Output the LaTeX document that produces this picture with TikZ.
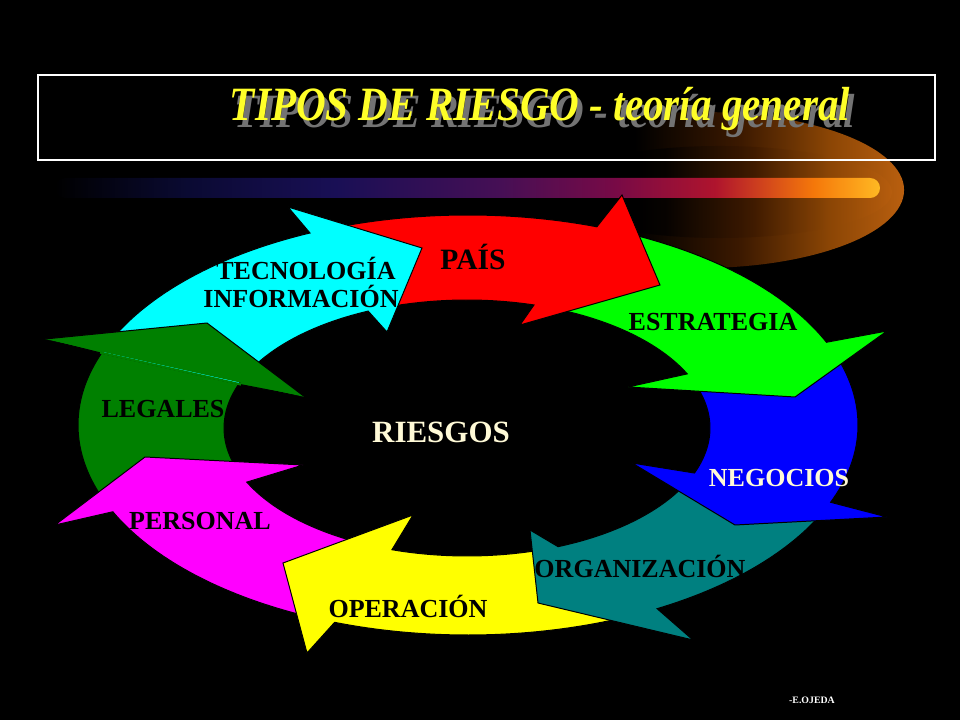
\documentclass[tikz,border=0pt]{standalone}
\usepackage{fontspec}
\setmainfont{Liberation Serif}
\definecolor{tealc}{RGB}{0,128,128}
\definecolor{dkg}{RGB}{0,128,0}
\definecolor{cyc}{RGB}{0,255,255}
\definecolor{rdc}{RGB}{255,0,0}
\definecolor{grc}{RGB}{0,255,0}
\definecolor{blc}{RGB}{0,0,255}
\definecolor{ylc}{RGB}{255,255,0}
\definecolor{mgc}{RGB}{255,0,255}
\definecolor{cream}{RGB}{255,250,215}
\definecolor{ttl}{RGB}{255,255,40}
\definecolor{b1}{RGB}{0,0,0}
\definecolor{b2}{RGB}{10,10,50}
\definecolor{b3}{RGB}{25,15,85}
\definecolor{b4}{RGB}{70,15,85}
\definecolor{b5}{RGB}{120,10,70}
\definecolor{b6}{RGB}{175,20,45}
\definecolor{b7}{RGB}{245,120,10}
\definecolor{b8}{RGB}{255,185,35}
\definecolor{g2}{RGB}{60,25,0}
\definecolor{g3}{RGB}{140,70,5}
\definecolor{g4}{RGB}{185,95,15}
\pgfdeclarehorizontalshading{barsh}{100bp}{color(0bp)=(b1);color(25bp)=(b1);color(33bp)=(b2);color(42bp)=(b3);color(52bp)=(b4);color(59bp)=(b5);color(65bp)=(b6);color(71bp)=(b7);color(75bp)=(b8);color(100bp)=(b8)}
\pgfdeclarehorizontalshading{glowsh}{100bp}{color(0bp)=(b1);color(25bp)=(b1);color(42bp)=(b1);color(55bp)=(g2);color(66bp)=(g3);color(75bp)=(g4);color(100bp)=(g4)}
\newcommand\ringarrow[8]{%
\fill[#1,draw=black,line width=0.7pt] plot[domain=#2:#3,samples=40] ({468+390*cos(\x)},{425-210*sin(\x)}) -- #4 -- #5 -- #6 -- plot[domain=#7:#8,samples=40] ({467+243*cos(\x)},{428-128*sin(\x)}) -- cycle;}
\tikzset{lbl/.style={font=\fontsize{18.5}{19}\selectfont\bfseries,text=black,inner sep=0pt}}
\begin{document}
\begin{tikzpicture}[x=0.025cm,y=-0.025cm]
\fill[black] (0,0) rectangle (960,720);
\useasboundingbox (0,0) rectangle (960,720);
% glow
\shade[shading=glowsh] (700,190) ellipse[x radius=5.1cm,y radius=1.95cm];
\shade[shading=glowsh,opacity=0.6] (720,192) ellipse[x radius=4.3cm,y radius=1.15cm];
% bar
\shade[shading=barsh,rounded corners=7pt] (55,178) rectangle (880,198);
% title box
\draw[white,line width=0.8pt] (38,75) rectangle (935,160);
\node[font=\fontsize{34}{34}\selectfont\bfseries\itshape,text=black!55,xscale=0.86,inner sep=0pt] (tshadow) at (545,116) {TIPOS DE RIESGO - teoría general};
\node[font=\fontsize{34}{34}\selectfont\bfseries\itshape,text=ttl,xscale=0.86,inner sep=0pt] (title) at (540,109) {TIPOS DE RIESGO - teoría general};
% ring (reverse order so each head lies over the next arrow's tail)
\ringarrow{dkg}{-155.6}{-200}{(45,339)}{(207,323)}{(305,397)}{-200}{-155}
\ringarrow{mgc}{-110}{-155.6}{(55,525)}{(145,457)}{(303,465)}{-155}{-108}
\ringarrow{ylc}{-61}{-110}{(307,653)}{(283,563)}{(413,515)}{-108}{-68}
\ringarrow{tealc}{-21.6}{-61}{(693,640)}{(538,603)}{(530,530)}{-68}{-20.6}
\ringarrow{blc}{23.2}{-21.6}{(887,517)}{(735,525)}{(632,463)}{-20.6}{25}
\ringarrow{grc}{70.7}{23.2}{(887,331)}{(795,397)}{(628,387)}{25}{74}
\ringarrow{rdc}{113.9}{70.7}{(622,195)}{(660,285)}{(520,325)}{74}{114}
\ringarrow{cyc}{160}{113.9}{(288,207)}{(422,248)}{(387,332)}{114}{160}
\fill[dkg] (45,339) -- (207,323) -- (305,397) -- cycle;
\draw[dkg,line width=1.6pt] (100,352.5) -- (241,384.5);
\draw[black,line width=0.7pt] (45,339) -- (207,323) -- (305,397);
% labels
\node[lbl,font=\fontsize{21}{21}\selectfont\bfseries] (pais) at (473,257) {PAÍS};
\node[lbl] (tec) at (306,268) {TECNOLOGÍA};
\node[lbl] (inf) at (301,296) {INFORMACIÓN};
\node[lbl] (est) at (713,322) {ESTRATEGIA};
\node[lbl] (leg) at (163,409) {LEGALES};
\node[lbl,text=cream,font=\fontsize{22}{22}\selectfont\bfseries] (ries) at (441,432) {RIESGOS};
\node[lbl,text=cream] (neg) at (779,478) {NEGOCIOS};
\node[lbl] (org) at (640,566) {ORGANIZACIÓN};
\node[lbl] (per) at (200,521) {PERSONAL};
\node[lbl] (ope) at (408,606) {OPERACIÓN};
\node[font=\fontsize{7}{7}\selectfont\bfseries,text=white,inner sep=0pt] (auth) at (812,700) {-E.OJEDA};
\end{tikzpicture}
\end{document}
